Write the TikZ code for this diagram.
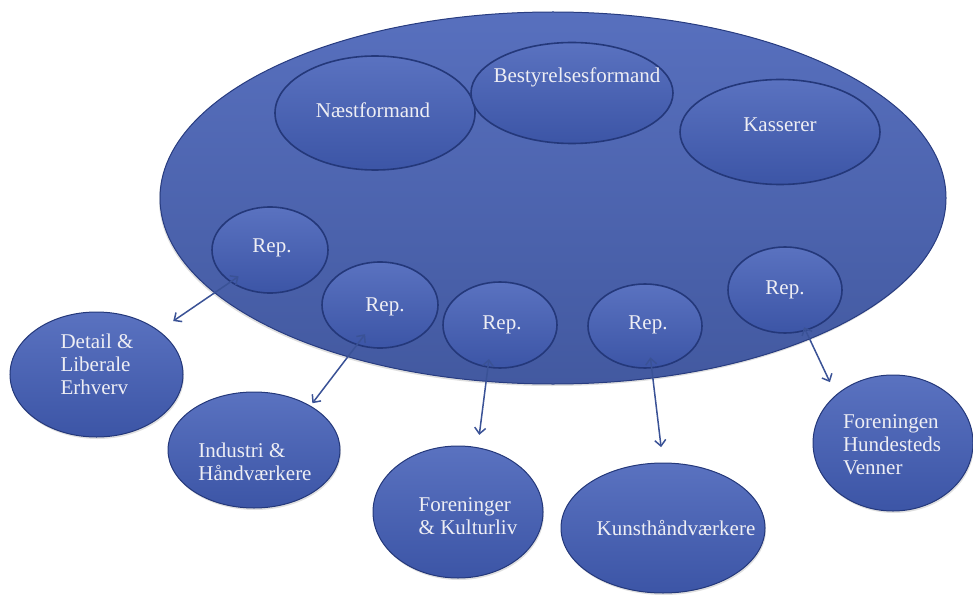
\documentclass[tikz,border=0pt]{standalone}
\usepackage{fontspec}
\setmainfont{Liberation Serif}
\usetikzlibrary{shapes.geometric,arrows.meta,shadows}
\definecolor{bigfill}{RGB}{74,99,178}
\definecolor{bigedge}{RGB}{40,60,128}
\definecolor{elltop}{RGB}{90,114,192}
\definecolor{ellbot}{RGB}{60,85,166}
\definecolor{edgeblue}{RGB}{36,56,122}
\definecolor{txtcol}{RGB}{238,238,244}
\definecolor{arrowcol}{RGB}{58,82,150}
\begin{document}
\begin{tikzpicture}[x=1pt,y=-1pt,
  bigell/.style={ellipse, draw=bigedge, line width=1pt, inner sep=0pt, outer sep=0pt,
    top color=elltop!85!bigfill, bottom color=bigfill!90!black,
    drop shadow={shadow xshift=-1pt, shadow yshift=-2pt, opacity=0.25}},
  ell/.style={ellipse, draw=edgeblue, line width=1.6pt, inner sep=0pt, outer sep=0pt,
    top color=elltop, bottom color=ellbot},
  outell/.style={ell, line width=1pt,
    drop shadow={shadow xshift=1pt, shadow yshift=-2pt, opacity=0.25}},
  lbl/.style={text=txtcol, font=\fontsize{21}{23}\selectfont, align=left, inner sep=0pt},
  link/.style={draw=arrowcol, line width=1.5pt,
    {Straight Barb[length=6pt,width=11pt]}-{Straight Barb[length=6pt,width=11pt]}}
]
\useasboundingbox (0,0) rectangle (973,596);

% board
\node[bigell, minimum width=786pt, minimum height=372pt] (board) at (553,198) {};

% inner members
\node[ell, minimum width=200pt, minimum height=114pt] (naest) at (375,113) {};
\node[ell, minimum width=202pt, minimum height=101pt] (formand) at (572,93) {};
\node[ell, minimum width=200pt, minimum height=105pt] (kasserer) at (780,132) {};
\node[ell, minimum width=116pt, minimum height=86pt] (rep1) at (270,250) {};
\node[ell, minimum width=116pt, minimum height=86pt] (rep2) at (380,305) {};
\node[ell, minimum width=114pt, minimum height=86pt] (rep3) at (500,325) {};
\node[ell, minimum width=114pt, minimum height=84pt] (rep4) at (645,326) {};
\node[ell, minimum width=114pt, minimum height=86pt] (rep5) at (785,290) {};

\node[lbl] (naest-t) at (373,110) {Næstformand};
\node[lbl] (formand-t) at (577,77) {Bestyrelsesformand};
\node[lbl] (kasserer-t) at (780,125) {Kasserer};
\node[lbl] (rep1-t) at (272,248) {Rep.};
\node[lbl] (rep2-t) at (385,307) {Rep.};
\node[lbl] (rep3-t) at (502,325) {Rep.};
\node[lbl] (rep4-t) at (648,325) {Rep.};
\node[lbl] (rep5-t) at (785,290) {Rep.};

% outer groups
\node[outell, minimum width=173pt, minimum height=125pt] (detail) at (96.5,374.5) {};
\node[outell, minimum width=172pt, minimum height=116pt] (industri) at (254,450) {};
\node[outell, minimum width=170pt, minimum height=132pt] (foren) at (458,512) {};
\node[outell, minimum width=204pt, minimum height=130pt] (kunst) at (663,528) {};
\node[outell, minimum width=160pt, minimum height=136pt] (venner) at (893,443) {};

\node[lbl] (detail-t) at (97,364) {Detail \&\\Liberale\\Erhverv};
\node[lbl] (industri-t) at (255,462) {Industri \&\\Håndværkere};
\node[lbl] (foren-t) at (468,516) {Foreninger\\\& Kulturliv};
\node[lbl] (kunst-t) at (676,528) {Kunsthåndværkere};
\node[lbl] (venner-t) at (892,445) {Foreningen\\Hundesteds\\Venner};

% connectors
\draw[link, shorten <=-9.5pt, shorten >=17.7pt] (rep1.219) -- (detail.35);
\draw[link, shorten <=-13pt, shorten >=3.6pt] (rep2.240) -- (industri.38);
\draw[link, shorten <=-8pt, shorten >=13pt] (rep3.254) -- (foren.73);
\draw[link, shorten <=-10.4pt, shorten >=16pt] (rep4.279) -- (kunst.90);
\draw[link, shorten <=-3.2pt, shorten >=14.5pt] (rep5.297) -- (venner.140);
\end{tikzpicture}
\end{document}
